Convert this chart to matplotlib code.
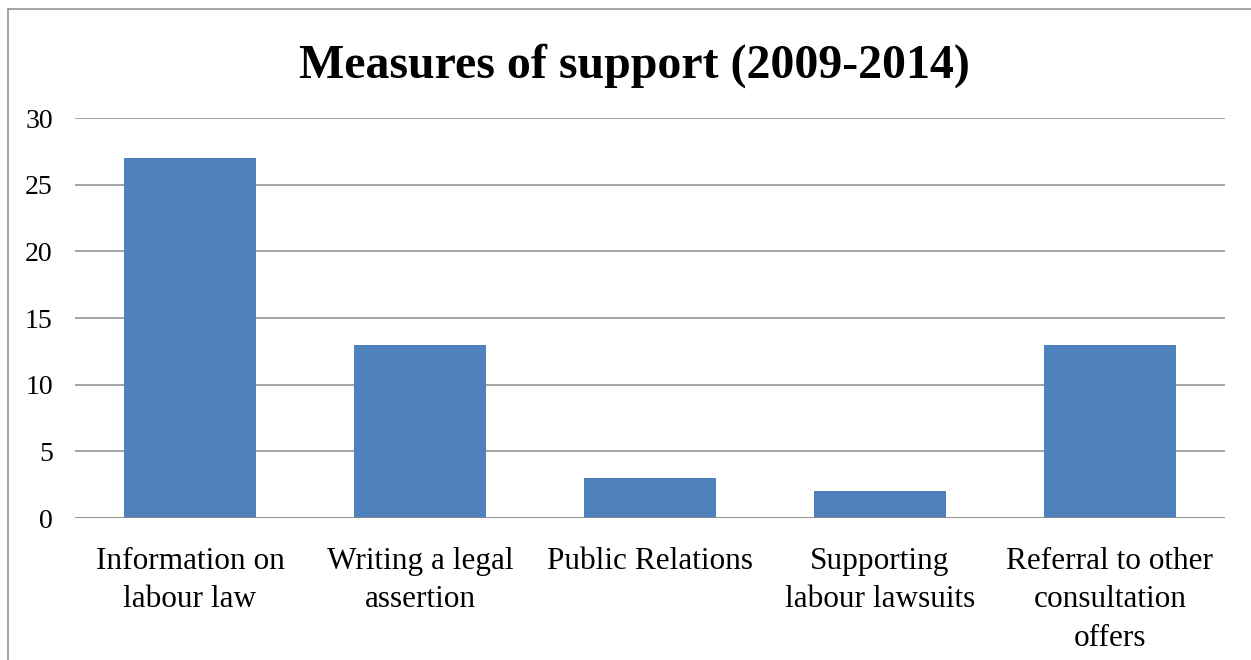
import matplotlib.pyplot as plt
from matplotlib.lines import Line2D

# --- data ---
categories = ['Information on\nlabour law', 'Writing a legal\nassertion', 'Public Relations',
              'Supporting\nlabour lawsuits', 'Referral to other\nconsultation\noffers']
values = [27, 13, 3, 2, 13]
yticks = [0, 5, 10, 15, 20, 25, 30]

plt.rcParams['font.family'] = ['Liberation Serif', 'DejaVu Serif']

fig = plt.figure(figsize=(12.51, 6.6), dpi=100)
ax = fig.add_axes([75 / 1251, 1 - 518 / 660, 1150 / 1251, 400 / 660])

ax.bar(range(len(values)), values, width=0.57, color='#4F81BD', zorder=3)

ax.set_xlim(-0.5, len(values) - 0.5)
ax.set_ylim(0, 30)
ax.set_yticks(yticks)
ax.set_xticks(range(len(categories)))
ax.set_xticklabels(categories, fontsize=22.5, linespacing=1.42)
ax.tick_params(axis='y', length=0, pad=16, labelsize=20)
ax.tick_params(axis='x', length=0, pad=21)

ax.grid(axis='y', color='#8c8c8c', linewidth=1.1, zorder=0)
for s in ax.spines.values():
    s.set_visible(False)
ax.axhline(0, color='#8c8c8c', linewidth=1.1, zorder=4)

fig.text(634 / 1251, 1 - 66 / 660, 'Measures of support (2009-2014)', ha='center', va='center',
         fontsize=34.5, fontweight='bold')

# outer frame (only top and left edges visible)
fig.add_artist(Line2D([8 / 1251, 8 / 1251], [0, 1 - 9 / 660], transform=fig.transFigure,
                      color='#8c8c8c', linewidth=1.1))
fig.add_artist(Line2D([8 / 1251, 1], [1 - 9 / 660, 1 - 9 / 660], transform=fig.transFigure,
                      color='#8c8c8c', linewidth=1.1))

fig.savefig('out.png', dpi=100)
